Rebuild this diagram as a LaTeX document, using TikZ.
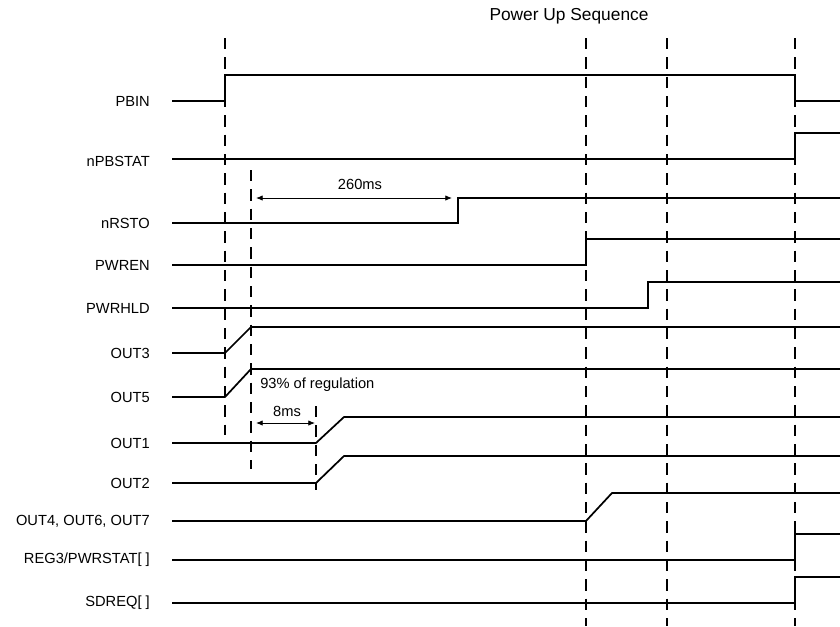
\documentclass[tikz,border=0pt]{standalone}
\usepackage{fontspec}
\setmainfont{Liberation Sans}
\usetikzlibrary{arrows.meta}

\begin{document}
\begin{tikzpicture}[x=0.75pt,y=-0.75pt,
  sig/.style={line width=1.3pt},
  guide/.style={line width=1.9pt,dash pattern=on 8.5pt off 6pt},
  dim/.style={line width=0.6pt,{Latex[length=5pt,width=4pt]}-{Latex[length=5pt,width=4pt]}},
  lbl/.style={anchor=east,inner sep=0pt,font=\fontsize{11}{13}\selectfont},
  note/.style={inner sep=0pt,font=\fontsize{11}{13}\selectfont}]

  \useasboundingbox (0,0) rectangle (840,626);

  % title
  \node[inner sep=0pt,font=\fontsize{13}{15}\selectfont] (title) at (569,16) {Power Up Sequence};

  % dashed event markers
  \draw[guide] (225,38) -- (225,435);
  \draw[guide] (251,170) -- (251,469);
  \draw[guide] (316,406) -- (316,490);
  \draw[guide] (586,38) -- (586,626);
  \draw[guide] (667,38) -- (667,626);
  \draw[guide] (795,38) -- (795,626);

  % signal names
  \node[lbl] (pbin)   at (150,101) {PBIN};
  \node[lbl] (npbst)  at (150,161) {nPBSTAT};
  \node[lbl] (nrsto)  at (150,223) {nRSTO};
  \node[lbl] (pwren)  at (150,265) {PWREN};
  \node[lbl] (pwrhld) at (150,308) {PWRHLD};
  \node[lbl] (out3)   at (150,353) {OUT3};
  \node[lbl] (out5)   at (150,397) {OUT5};
  \node[lbl] (out1)   at (150,443) {OUT1};
  \node[lbl] (out2)   at (150,483) {OUT2};
  \node[lbl] (out467) at (150,521) {OUT4, OUT6, OUT7};
  \node[lbl] (reg3)   at (150,560) {REG3/PWRSTAT[ ]};
  \node[lbl] (sdreq)  at (150,603) {SDREQ[ ]};

  % waveforms
  \draw[sig] (172,101) -- (225,101) -- (225,75) -- (795,75) -- (795,101) -- (840,101);
  \draw[sig] (172,159) -- (795,159) -- (795,133) -- (840,133);
  \draw[sig] (172,223) -- (458,223) -- (458,198) -- (840,198);
  \draw[sig] (172,265) -- (586,265) -- (586,239) -- (840,239);
  \draw[sig] (172,308) -- (648,308) -- (648,282) -- (840,282);
  \draw[sig] (172,353) -- (225,353) -- (251,327) -- (840,327);
  \draw[sig] (172,397) -- (225,397) -- (251,369) -- (840,369);
  \draw[sig] (172,443) -- (316,443) -- (344,417) -- (840,417);
  \draw[sig] (172,483) -- (316,483) -- (344,456) -- (840,456);
  \draw[sig] (172,521) -- (586,521) -- (612,493) -- (840,493);
  \draw[sig] (172,560) -- (795,560) -- (795,534) -- (840,534);
  \draw[sig] (172,603) -- (795,603) -- (795,577) -- (840,577);

  % timing annotations
  \coordinate (rsta) at (256,198);
  \coordinate (rstb) at (452,198);
  \draw[dim] (rsta) -- (rstb);
  \node[note] (trst) at (360,184) {260ms};

  \node[note,anchor=west] (reg) at (260,385) {93\% of regulation};

  \coordinate (dlya) at (256,423);
  \coordinate (dlyb) at (315,423);
  \draw[dim] (dlya) -- (dlyb);
  \node[note] (tdly) at (287,411) {8ms};

\end{tikzpicture}
\end{document}
